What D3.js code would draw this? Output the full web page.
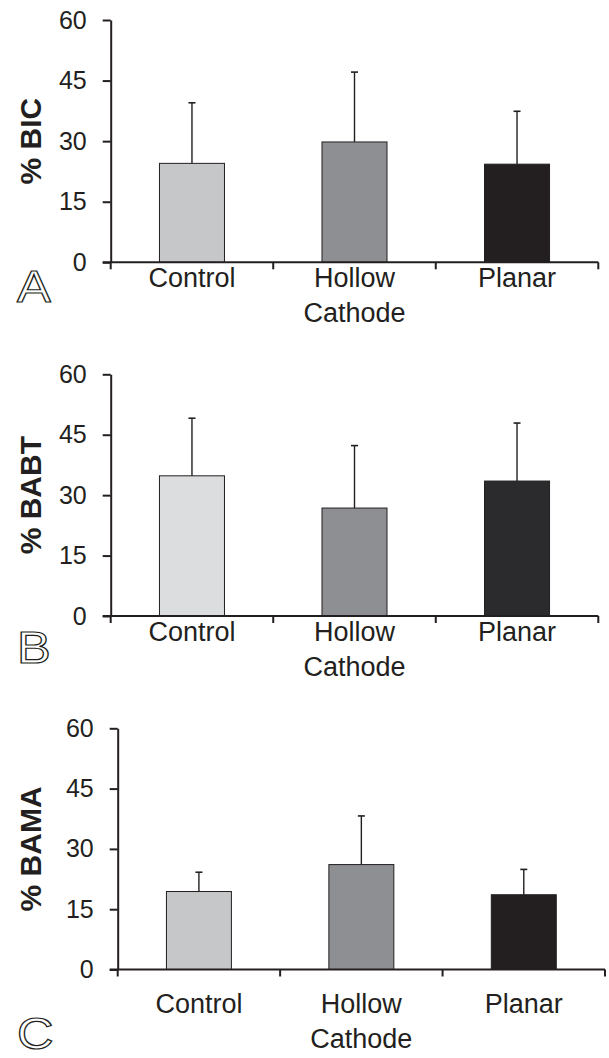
<!DOCTYPE html>
<html>
<head>
<meta charset="utf-8">
<script src="https://cdn.jsdelivr.net/npm/d3@7/dist/d3.min.js"></script>
<style>
  html, body { margin: 0; padding: 0; background: #fff; }
  svg { display: block; }
  text { font-family: "Liberation Sans", Arial, sans-serif; fill: #231f20; }
</style>
</head>
<body>
<svg id="chart" width="609" height="1058"></svg>
<script>
// ---- data ----
const categories = ["Control", "Hollow Cathode", "Planar"];
const categoryLines = [["Control"], ["Hollow", "Cathode"], ["Planar"]];
const yTicks = [0, 15, 30, 45, 60];

const bicMean  = [24.5, 29.8, 24.3];
const bicErr   = [15.0, 17.3, 13.1];
const babtMean = [34.8, 26.8, 33.5];
const babtErr  = [14.3, 15.5, 14.4];
const bamaMean = [19.4, 26.1, 18.6];
const bamaErr  = [4.8, 12.1, 6.3];

const panelTitles = ["% BIC", "% BABT", "% BAMA"];
const panelLetters = ["A", "B", "C"];

// ---- layout / style ----
const panels = [
  { mean: bicMean,  err: bicErr,  x0: 110.7, x1: 598.3, yBottom: 262.3, yTop: 20,
    colors: ["#c6c7c9", "#8e8f93", "#231f20"], letterY: 302, labelDy: 25 },
  { mean: babtMean, err: babtErr, x0: 110.7, x1: 598.3, yBottom: 616, yTop: 374.3,
    colors: ["#dcdddf", "#8e8f93", "#2b2a2c"], letterY: 663, labelDy: 25 },
  { mean: bamaMean, err: bamaErr, x0: 117.7, x1: 605, yBottom: 969.5, yTop: 728.3,
    colors: ["#c6c7c9", "#8e8f93", "#231f20"], letterY: 1049, labelDy: 43 }
];
const ink = "#231f20";

const svg = d3.select("#chart");

panels.forEach((p, i) => {
  const g = svg.append("g");
  const x = d3.scaleBand().domain(categories).range([p.x0, p.x1]).padding(0);
  const y = d3.scaleLinear().domain([0, 60]).range([p.yBottom, p.yTop]);
  const bw = x.bandwidth() * 0.4;

  // bars
  g.selectAll("rect.bar").data(categories).join("rect")
    .attr("x", d => x(d) + (x.bandwidth() - bw) / 2)
    .attr("y", (d, j) => y(p.mean[j]))
    .attr("width", bw)
    .attr("height", (d, j) => y(0) - y(p.mean[j]))
    .attr("fill", (d, j) => p.colors[j])
    .attr("stroke", ink).attr("stroke-width", 1);

  // error bars (upper only)
  const cx = d => x(d) + x.bandwidth() / 2;
  g.selectAll("line.err").data(categories).join("line")
    .attr("x1", cx).attr("x2", cx)
    .attr("y1", (d, j) => y(p.mean[j]))
    .attr("y2", (d, j) => y(p.mean[j] + p.err[j]))
    .attr("stroke", ink).attr("stroke-width", 1.4);
  g.selectAll("line.cap").data(categories).join("line")
    .attr("x1", d => cx(d) - 3.5).attr("x2", d => cx(d) + 3.5)
    .attr("y1", (d, j) => y(p.mean[j] + p.err[j]))
    .attr("y2", (d, j) => y(p.mean[j] + p.err[j]))
    .attr("stroke", ink).attr("stroke-width", 1.6);

  // y axis
  const yAxis = d3.axisLeft(y).tickValues(yTicks).tickSize(8).tickPadding(16).tickSizeOuter(0);
  const ya = g.append("g").attr("transform", `translate(${p.x0},0)`).call(yAxis);
  ya.select(".domain").attr("stroke", ink).attr("stroke-width", 2);
  ya.selectAll(".tick line").attr("stroke", ink).attr("stroke-width", 2);
  ya.selectAll(".tick text").attr("font-size", 25).attr("fill", ink)
    .attr("font-family", "'Liberation Sans', Arial, sans-serif");

  // x axis: line + boundary ticks
  g.append("line").attr("x1", p.x0 - 8).attr("x2", p.x1)
    .attr("y1", y(0)).attr("y2", y(0)).attr("stroke", ink).attr("stroke-width", 2);
  const bounds = categories.map(d => x(d)).concat([p.x1]);
  g.selectAll("line.xt").data(bounds).join("line")
    .attr("x1", d => d).attr("x2", d => d)
    .attr("y1", y(0)).attr("y2", y(0) + 7)
    .attr("stroke", ink).attr("stroke-width", 2);

  // category labels
  categories.forEach((c, j) => {
    const t = g.append("text").attr("text-anchor", "middle").attr("font-size", 27)
      .attr("x", cx(c)).attr("y", y(0) + p.labelDy);
    categoryLines[j].forEach((ln, k) => {
      t.append("tspan").attr("x", cx(c)).attr("dy", k === 0 ? 0 : 35).text(ln);
    });
  });

  // y title
  g.append("text").attr("text-anchor", "middle").attr("font-size", 30).attr("font-weight", "bold")
    .attr("transform", `translate(${41},${(p.yBottom + p.yTop) / 2}) rotate(-90)`)
    .text(panelTitles[i]);

  // panel letter (outlined)
  g.append("text").attr("x", 17).attr("y", p.letterY).attr("font-size", 44)
    .attr("transform", `translate(17,0) scale(1.15,1) translate(-17,0)`)
    .style("fill", "#fff").attr("stroke", ink).attr("stroke-width", 1.2)
    .text(panelLetters[i]);
});
</script>
</body>
</html>
